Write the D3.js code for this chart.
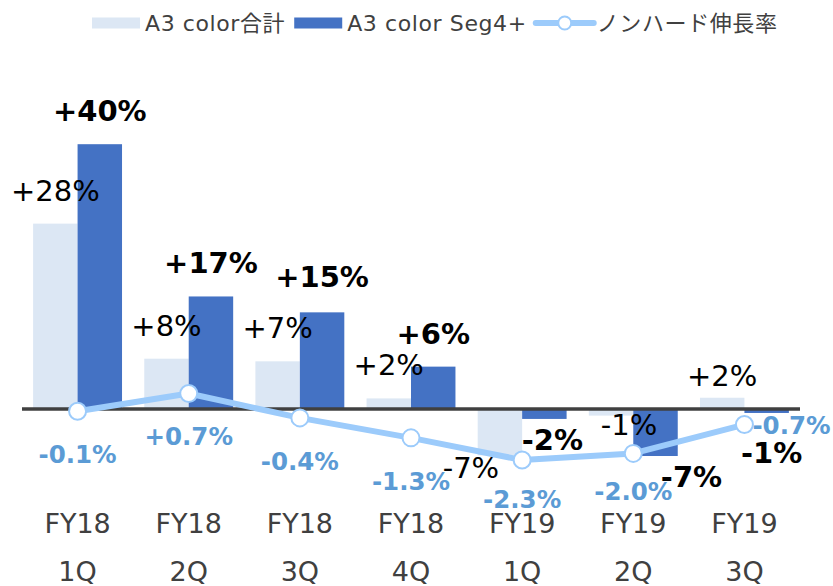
<!DOCTYPE html>
<html>
<head>
<meta charset="utf-8">
<script src="https://cdn.jsdelivr.net/npm/d3@7"></script>
<style>
  html, body { margin: 0; padding: 0; background: #fff; }
  svg text { font-family: "DejaVu Sans", Verdana, "Noto Sans CJK JP", sans-serif; }
</style>
</head>
<body>
<div id="chart"></div>
<script>
// Data
const categories = ['FY18 1Q', 'FY18 2Q', 'FY18 3Q', 'FY18 4Q', 'FY19 1Q', 'FY19 2Q', 'FY19 3Q'];
const seriesNames = ['A3 color合計', 'A3 color Seg4+', 'ノンハード伸長率'];
const totalValues = [28, 7.6, 7.2, 1.6, -7, -1, 1.7];
const totalLabels = ['+28%', '+8%', '+7%', '+2%', '-7%', '-1%', '+2%'];
const seg4Values = [40, 17, 14.6, 6.4, -1.5, -7.1, -0.6];
const seg4Labels = ['+40%', '+17%', '+15%', '+6%', '-2%', '-7%', '-1%'];
const nonHardValues = [-0.1, 0.7, -0.4, -1.3, -2.3, -2.0, -0.7];
const nonHardLabels = ['-0.1%', '+0.7%', '-0.4%', '-1.3%', '-2.3%', '-2.0%', '-0.7%'];

const width = 833, height = 586;
const colors = { total: '#dce7f4', seg4: '#4472c4', line: '#9ccbfb', lineLabel: '#5b9bd5', axis: '#404040' };

// Hand nudges for data labels, matching the original slide layout
const totalNudge = [[0, 0], [0, 0], [0, 0], [0, 0], [-29, -3], [18, -7], [0, 11]];
const seg4Nudge = [[0, 0], [0, 0], [0, -2], [0, 0], [8, 0], [36, 0], [5, 19]];
const lineLabelGap = [52, 52, 52, 52, 48, 47, 9];

const svg = d3.select('#chart').append('svg')
    .attr('width', width)
    .attr('height', height);

const x = d3.scaleBand()
    .domain(categories)
    .range([22, 800])
    .paddingInner(0.2)
    .paddingOuter(0.1);

const xSub = d3.scaleBand()
    .domain([0, 1])
    .range([0, x.bandwidth()]);

const zeroY = 409;
const k = 6.62;
const y = d3.scaleLinear().domain([-10, 45]).range([zeroY + 10 * k, zeroY - 45 * k]);
const kl = 22.2;
const yLine = d3.scaleLinear().domain([-3, 1]).range([zeroY + 3 * kl, zeroY - kl]);

// Bars
const groups = svg.append('g').selectAll('g')
    .data(categories)
    .join('g')
    .attr('transform', d => `translate(${x(d)},0)`);

groups.append('rect')
    .attr('x', xSub(0))
    .attr('width', xSub.bandwidth())
    .attr('y', (d, i) => Math.min(y(totalValues[i]), y(0)))
    .attr('height', (d, i) => Math.abs(y(totalValues[i]) - y(0)))
    .attr('fill', colors.total);

groups.append('rect')
    .attr('x', xSub(1))
    .attr('width', xSub.bandwidth())
    .attr('y', (d, i) => Math.min(y(seg4Values[i]), y(0)))
    .attr('height', (d, i) => Math.abs(y(seg4Values[i]) - y(0)))
    .attr('fill', colors.seg4);

// Zero line
svg.append('line')
    .attr('x1', 22).attr('x2', 800)
    .attr('y1', y(0)).attr('y2', y(0))
    .attr('stroke', colors.axis)
    .attr('stroke-width', 3.5);

// Bar labels
svg.append('g').selectAll('text')
    .data(categories)
    .join('text')
    .attr('x', (d, i) => x(d) + xSub(0) + xSub.bandwidth() / 2 + totalNudge[i][0])
    .attr('y', (d, i) => (totalValues[i] >= 0 ? y(totalValues[i]) - 23 : y(totalValues[i]) + 26) + totalNudge[i][1])
    .attr('text-anchor', 'middle')
    .style('font-size', '29px')
    .style('fill', '#000')
    .text((d, i) => totalLabels[i]);

svg.append('g').selectAll('text')
    .data(categories)
    .join('text')
    .attr('x', (d, i) => x(d) + xSub(1) + xSub.bandwidth() / 2 + seg4Nudge[i][0])
    .attr('y', (d, i) => (seg4Values[i] >= 0 ? y(seg4Values[i]) - 23 : y(seg4Values[i]) + 31) + seg4Nudge[i][1])
    .attr('text-anchor', 'middle')
    .style('font-size', '29px')
    .style('font-weight', 'bold')
    .style('fill', '#000')
    .text((d, i) => seg4Labels[i]);

// Line series
const cx = d => x(d) + x.bandwidth() / 2;
const line = d3.line()
    .x(d => cx(d))
    .y((d, i) => yLine(nonHardValues[i]));

svg.append('path')
    .datum(categories)
    .attr('d', line)
    .attr('fill', 'none')
    .attr('stroke', colors.line)
    .attr('stroke-width', 6)
    .attr('stroke-linejoin', 'round');

svg.append('g').selectAll('circle')
    .data(categories)
    .join('circle')
    .attr('cx', cx)
    .attr('cy', (d, i) => yLine(nonHardValues[i]))
    .attr('r', 8.5)
    .attr('fill', '#fff')
    .attr('stroke', colors.line)
    .attr('stroke-width', 2);

// last label sits to the right of its point, the rest below
const last = categories.length - 1;
svg.append('g').selectAll('text')
    .data(categories)
    .join('text')
    .attr('x', (d, i) => i === last ? cx(d) + 8 : cx(d))
    .attr('y', (d, i) => yLine(nonHardValues[i]) + lineLabelGap[i])
    .attr('text-anchor', (d, i) => i === last ? 'start' : 'middle')
    .style('font-size', '24.5px')
    .style('font-weight', 'bold')
    .style('fill', colors.lineLabel)
    .text((d, i) => nonHardLabels[i]);

// Category axis (two-line labels)
const xAxis = svg.append('g')
    .attr('transform', 'translate(0,533)')
    .call(d3.axisBottom(x).tickSize(0).tickPadding(0));
xAxis.select('.domain').remove();
xAxis.selectAll('.tick text')
    .style('font-size', '27px')
    .style('fill', colors.axis)
    .attr('y', 0)
    .attr('dy', 0)
    .text(null)
    .each(function (d) {
        const parts = d.split(' ');
        const t = d3.select(this);
        t.append('tspan').attr('x', 0).attr('y', 0).text(parts[0]);
        t.append('tspan').attr('x', 0).attr('y', 48).text(parts[1]);
    });

// Legend
const legend = svg.append('g').attr('transform', 'translate(0,0)');
let lx = 92;
seriesNames.forEach((name, i) => {
    const g = legend.append('g');
    if (i < 2) {
        g.append('rect')
            .attr('x', lx).attr('y', 17.5)
            .attr('width', 48).attr('height', 11)
            .attr('fill', i === 0 ? colors.total : colors.seg4);
        lx += 53;
    } else {
        g.append('line')
            .attr('x1', lx).attr('x2', lx + 58)
            .attr('y1', 23).attr('y2', 23)
            .attr('stroke', colors.line)
            .attr('stroke-width', 6)
            .attr('stroke-linecap', 'round');
        g.append('circle')
            .attr('cx', lx + 29).attr('cy', 23).attr('r', 6.5)
            .attr('fill', '#fff')
            .attr('stroke', colors.line)
            .attr('stroke-width', 2);
        lx += 61;
    }
    const t = g.append('text')
        .attr('x', lx).attr('y', 31)
        .style('font-size', '22px')
        .style('letter-spacing', '0.6px')
        .style('fill', colors.axis)
        .text(name);
    lx += t.node().getComputedTextLength() + 9;
});
</script>
</body>
</html>
